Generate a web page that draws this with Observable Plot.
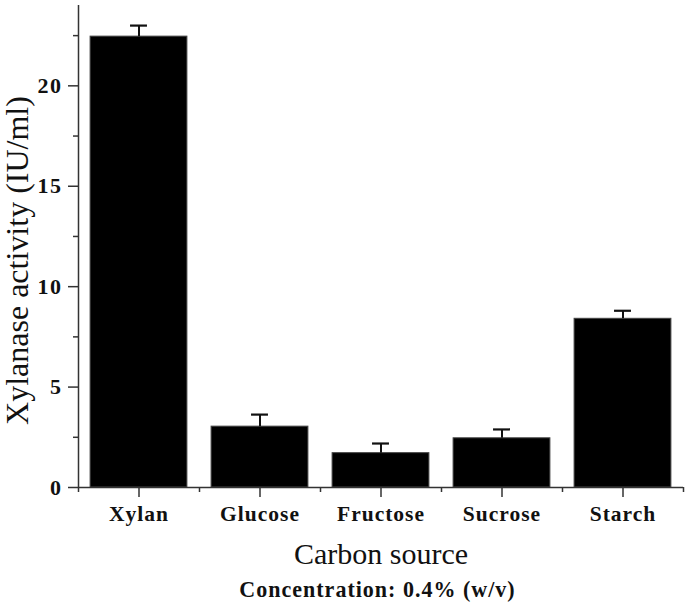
<!DOCTYPE html>
<html>
<head>
<meta charset="utf-8">
<script src="https://cdn.jsdelivr.net/npm/d3@7"></script>
<script src="https://cdn.jsdelivr.net/npm/@observablehq/plot@0.6"></script>
<style>
  body { margin: 0; background: #fff; }
  #wrap { position: relative; width: 685px; height: 607px; overflow: hidden; }
  #chart svg text { font-family: 'Liberation Serif', serif; }
  #caption { position: absolute; left: 240px; top: 576px; white-space: nowrap;
    font-family: 'Liberation Serif', serif; font-weight: bold; font-size: 23.5px; letter-spacing: 1px; line-height: 28px; color: #111; }
</style>
</head>
<body>
<div id="wrap"><div id="chart"></div><span id="caption">Concentration: 0.4% (w/v)</span></div>
<script>
const categories = ["Xylan", "Glucose", "Fructose", "Sucrose", "Starch"];
const activity = [22.45, 3.03, 1.71, 2.45, 8.4];
const errors = [0.55, 0.6, 0.48, 0.44, 0.4];
const yMajorTicks = [0, 5, 10, 15, 20];
const yMinorTicks = [2.5, 7.5, 12.5, 17.5, 22.5];

const data = categories.map((c, i) => ({i, c, v: activity[i], e: errors[i]}));
const xMinor = d3.range(categories.length + 1).map(k => k - 0.5);
const barHalf = 0.4, capHalf = 0.07;
const serif = "'Liberation Serif', serif";

const plot = Plot.plot({
  width: 685,
  height: 575,
  marginLeft: 78,
  marginRight: 2,
  marginTop: 5,
  marginBottom: 88,
  style: {fontFamily: serif, color: "#111", background: "#fff"},
  x: {domain: [-0.5, categories.length - 0.5]},
  y: {domain: [0, 24]},
  marks: [
    Plot.rectY(data, {x1: d => d.i - barHalf, x2: d => d.i + barHalf, y1: 0, y2: "v", fill: "#000", stroke: "#444", strokeWidth: 1}),
    Plot.ruleX(data, {x: "i", y1: "v", y2: d => d.v + d.e, stroke: "#111", strokeWidth: 2}),
    Plot.ruleY(data, {y: d => d.v + d.e, x1: d => d.i - capHalf, x2: d => d.i + capHalf, stroke: "#111", strokeWidth: 2.2}),
    Plot.axisY({ticks: yMajorTicks, tickSize: 10, tickPadding: 6, fontSize: 22, fontWeight: "bold", fontFamily: serif, label: null, stroke: "#333", strokeWidth: 1.5}),
    Plot.axisY({ticks: yMinorTicks, tickSize: 5, tickFormat: () => "", label: null, stroke: "#333", strokeWidth: 1.5}),
    Plot.axisX({ticks: data.map(d => d.i), tickFormat: i => categories[i], tickSize: 10, tickPadding: 8, fontSize: 21.5, fontWeight: "bold", fontFamily: serif, label: null, stroke: "#333", strokeWidth: 1.5}),
    Plot.axisX({ticks: xMinor, tickSize: 5, tickFormat: () => "", label: null, stroke: "#333", strokeWidth: 1.5}),
    Plot.ruleY([0], {stroke: "#333", strokeWidth: 1.5}),
    Plot.ruleX([-0.5], {stroke: "#333", strokeWidth: 1.5}),
    Plot.text(["Xylanase activity (IU/ml)"], {frameAnchor: "left", text: d => d, rotate: -90, textAnchor: "middle", lineAnchor: "middle", dx: -61, dy: 14, fontSize: 32, fontFamily: serif, fill: "#111"}),
    Plot.text(["Carbon source"], {frameAnchor: "bottom", text: d => d, textAnchor: "middle", lineAnchor: "bottom", dy: 76, fontSize: 30, fontFamily: serif, fill: "#111"})
  ]
});
document.getElementById("chart").appendChild(plot);
document.querySelectorAll("#chart svg g[aria-label='x-axis tick label'] text").forEach(t => t.style.letterSpacing = "1px");
document.querySelectorAll("#chart svg g[aria-label='y-axis tick label'] text").forEach(t => t.style.letterSpacing = "1.5px");

// fit caption: target width and centre taken from the reference layout
const cap = document.getElementById("caption");
const targetW = 275, targetCx = 377.5;
let w = cap.getBoundingClientRect().width;
cap.style.fontSize = (23.5 * targetW / w) + "px";
w = cap.getBoundingClientRect().width;
cap.style.left = (targetCx - w / 2) + "px";
</script>
</body>
</html>
